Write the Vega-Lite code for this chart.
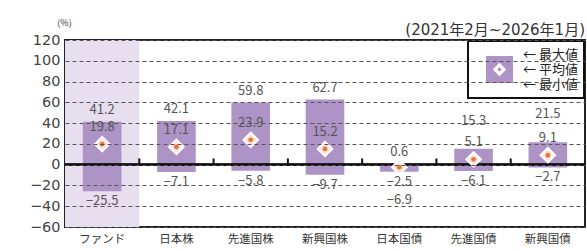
{
  "$schema": "https://vega.github.io/schema/vega-lite/v6.json",
  "width": 520,
  "height": 187,
  "autosize": {"type": "none"},
  "padding": {"left": 65, "top": 40, "right": 2, "bottom": 24},
  "background": "white",
  "config": {
    "font": "Noto Sans CJK JP",
    "view": {"stroke": "#222", "strokeWidth": 2},
    "axis": {"labelOverlap": false},
    "axisY": {
      "labelOverlap": false,
      "grid": true,
      "gridDash": [4, 3],
      "gridColor": "#555",
      "gridWidth": 1,
      "ticks": false,
      "domain": false,
      "labelFont": "DejaVu Sans",
      "labelFontSize": 14.5,
      "labelColor": "#444",
      "labelPadding": 5,
      "titleAngle": 0,
      "titleX": -1,
      "titleY": -13,
      "titleAlign": "center",
      "titleFontSize": 9,
      "titleFontWeight": "normal",
      "titleColor": "#333"
    }
  },
  "title": {
    "text": "(2021年2月~2026年1月)",
    "anchor": "end",
    "frame": "group",
    "font": "DejaVu Sans, Noto Sans CJK JP",
    "fontSize": 15,
    "fontWeight": "normal",
    "color": "#333",
    "offset": 4,
    "dy": 24
  },
  "data": {
    "values": [
      {"category": "ファンド", "max": 41.2, "mean": 19.8, "min": -25.5},
      {"category": "日本株", "max": 42.1, "mean": 17.1, "min": -7.1},
      {"category": "先進国株", "max": 59.8, "mean": 23.9, "min": -5.8},
      {"category": "新興国株", "max": 62.7, "mean": 15.2, "min": -9.7},
      {"category": "日本国債", "max": 0.6, "mean": -2.5, "min": -6.9},
      {"category": "先進国債", "max": 15.3, "mean": 5.1, "min": -6.1},
      {"category": "新興国債", "max": 21.5, "mean": 9.1, "min": -2.7}
    ]
  },
  "encoding": {
    "x": {
      "field": "category",
      "type": "nominal",
      "scale": {
        "domain": ["ファンド", "日本株", "先進国株", "新興国株", "日本国債", "先進国債", "新興国債"],
        "paddingInner": 0,
        "paddingOuter": 0
      },
      "axis": {
        "title": null,
        "ticks": false,
        "domain": false,
        "labelAngle": 0,
        "labelFontSize": 11.5,
        "labelColor": "#333",
        "labelPadding": 6
      }
    }
  },
  "layer": [
    {
      "transform": [{"filter": "datum.category === 'ファンド'"}],
      "mark": {"type": "bar", "color": "#e7deef", "width": {"band": 1}},
      "encoding": {
        "y": {
          "datum": 120,
          "type": "quantitative",
          "title": "(%)",
          "scale": {"domain": [-60, 120], "nice": false, "zero": false},
          "axis": {"tickCount": 10, "labelOverlap": false, "labelSeparation": 0, "zindex": 1, "gridDash": [4, 3], "gridColor": "#555", "gridWidth": 1}
        },
        "y2": {"datum": -60}
      }
    },
    {
      "mark": {"type": "bar", "width": {"band": 0.52}},
      "encoding": {
        "y": {"field": "max", "type": "quantitative", "title": "(%)"},
        "y2": {"field": "min"},
        "color": {
          "datum": "凡例",
          "type": "nominal",
          "scale": {"range": ["#ae94c6"]},
          "legend": {
            "title": null,
            "orient": "top-right",
            "offset": 1,
            "symbolType": "M-0.6,-0.6H0.6V0.6H-0.6Z M0,-0.3L-0.3,0L0,0.3L0.3,0Z M0,-0.1L0.1,0L0,0.1L-0.1,0Z M-0.6,-1L0.6,-1Z M-0.6,1L0.6,1Z",
            "symbolSize": 2025,
            "symbolStrokeWidth": 0,
            "symbolOpacity": 1,
            "symbolOffset": 3,
            "labelExpr": "['← 最大値', '← 平均値', '← 最小値']",
            "labelFontSize": 13,
            "labelColor": "#222",
            "labelOffset": 1,
            "padding": 6,
            "strokeColor": "#111",
            "fillColor": "white",
            "encode": {
              "labels": {"update": {"lineHeight": {"value": 15}, "dy": {"value": -15}}},
              "legend": {"update": {"strokeWidth": {"value": 2}}}
            }
          }
        }
      }
    },
    {
      "mark": {"type": "rule", "color": "#111", "strokeWidth": 2},
      "encoding": {
        "x": null,
        "y": {"datum": 0, "type": "quantitative", "title": "(%)"}
      }
    },
    {
      "transform": [{"filter": "datum.category !== 'ファンド'"}],
      "mark": {"type": "rule", "color": "#111", "strokeWidth": 2},
      "encoding": {
        "x": {"field": "category", "type": "nominal", "bandPosition": 0},
        "y": {"datum": 0, "type": "quantitative", "title": "(%)"},
        "y2": {"datum": 6}
      }
    },
    {
      "mark": {"type": "point", "shape": "diamond", "size": 210, "filled": true, "fill": "#fde4dc", "stroke": "white", "strokeWidth": 2, "opacity": 1},
      "encoding": {"y": {"field": "mean", "type": "quantitative", "title": "(%)"}}
    },
    {
      "mark": {"type": "point", "shape": "circle", "size": 24, "filled": true, "color": "#e2783a", "opacity": 1},
      "encoding": {"y": {"field": "mean", "type": "quantitative", "title": "(%)"}}
    },
    {
      "transform": [{"filter": "datum.category !== '先進国債' && datum.category !== '新興国債'"}],
      "mark": {"type": "text", "baseline": "middle", "dy": -12, "fontSize": 13, "color": "#555"},
      "encoding": {
        "y": {"field": "max", "type": "quantitative", "title": "(%)"},
        "text": {"field": "max", "type": "quantitative", "format": ".1f"}
      }
    },
    {
      "transform": [{"filter": "datum.category === '先進国債' || datum.category === '新興国債'"}],
      "mark": {"type": "text", "baseline": "middle", "dy": -28, "fontSize": 13, "color": "#555"},
      "encoding": {
        "y": {"field": "max", "type": "quantitative", "title": "(%)"},
        "text": {"field": "max", "type": "quantitative", "format": ".1f"}
      }
    },
    {
      "transform": [{"filter": "datum.category !== '日本国債'"}],
      "mark": {"type": "text", "baseline": "middle", "dy": -17, "fontSize": 13, "color": "#555"},
      "encoding": {
        "y": {"field": "mean", "type": "quantitative", "title": "(%)"},
        "text": {"field": "mean", "type": "quantitative", "format": ".1f"}
      }
    },
    {
      "transform": [{"filter": "datum.category === '日本国債'"}],
      "mark": {"type": "text", "baseline": "middle", "dy": 15, "fontSize": 13, "color": "#555"},
      "encoding": {
        "y": {"field": "mean", "type": "quantitative", "title": "(%)"},
        "text": {"field": "mean", "type": "quantitative", "format": ".1f"}
      }
    },
    {
      "transform": [{"filter": "datum.category !== '日本国債'"}],
      "mark": {"type": "text", "baseline": "middle", "dy": 10, "fontSize": 13, "color": "#555"},
      "encoding": {
        "y": {"field": "min", "type": "quantitative", "title": "(%)"},
        "text": {"field": "min", "type": "quantitative", "format": ".1f"}
      }
    },
    {
      "transform": [{"filter": "datum.category === '日本国債'"}],
      "mark": {"type": "text", "baseline": "middle", "dy": 28, "fontSize": 13, "color": "#555"},
      "encoding": {
        "y": {"field": "min", "type": "quantitative", "title": "(%)"},
        "text": {"field": "min", "type": "quantitative", "format": ".1f"}
      }
    }
  ]
}
